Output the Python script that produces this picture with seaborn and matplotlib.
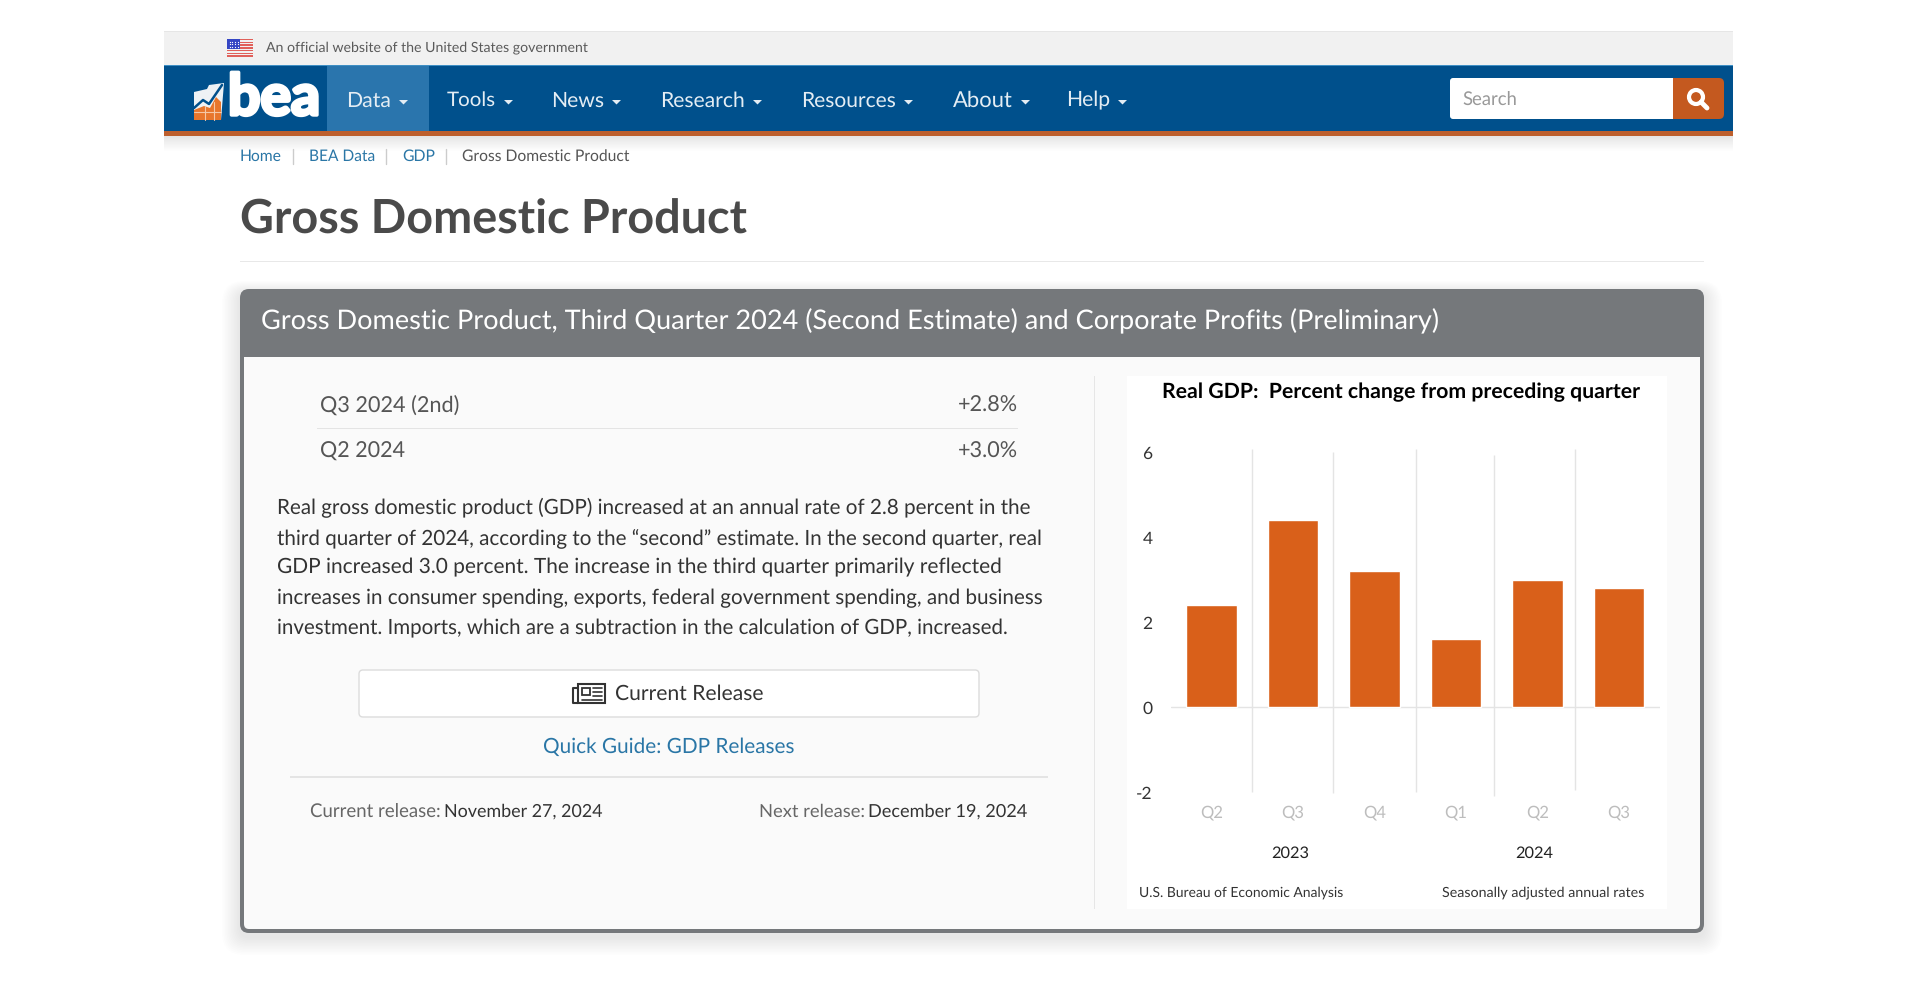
import numpy as np
import matplotlib
matplotlib.use('Agg')
import matplotlib.pyplot as plt
import matplotlib.patheffects as pe
import seaborn as sns
from matplotlib.patches import FancyBboxPatch, Rectangle, Polygon, Circle

# chart data
periods = ['2023 Q2', '2023 Q3', '2023 Q4', '2024 Q1', '2024 Q2', '2024 Q3']
quarter_labels = ['Q2', 'Q3', 'Q4', 'Q1', 'Q2', 'Q3']
gdp_change = [2.4, 4.4, 3.2, 1.6, 3.0, 2.8]
y_ticks = [-2, 0, 2, 4, 6]
years = ['2023', '2024']

# page text
nav_items = ['Data', 'Tools', 'News', 'Research', 'Resources', 'About', 'Help']
crumbs = ['Home', 'BEA Data', 'GDP']
paragraph = [
    'Real gross domestic product (GDP) increased at an annual rate of 2.8 percent in the',
    'third quarter of 2024, according to the \u201csecond\u201d estimate. In the second quarter, real',
    'GDP increased 3.0 percent. The increase in the third quarter primarily reflected',
    'increases in consumer spending, exports, federal government spending, and business',
    'investment. Imports, which are a subtraction in the calculation of GDP, increased.',
]

sns.set_style('white')
plt.rcParams['font.family'] = ['Lato', 'DejaVu Sans']
plt.rcParams['axes.unicode_minus'] = False
plt.rcParams['text.hinting'] = 'none'

NAVY = '#00508c'
ORANGE = '#c4591f'
GREY = '#75787b'
LINK = '#2a76a6'

fig = plt.figure(figsize=(19.2, 9.92), dpi=100, facecolor='white')
page = fig.add_axes([0, 0, 1, 1])
page.set_xlim(0, 1920)
page.set_ylim(992, 0)
page.axis('off')
renderer = fig.canvas.get_renderer()


def put(x, y, s, width=None, size=14, color='#333333', ha='left', weight='normal'):
    t = page.text(x, y + 1.5, s, fontsize=size, color=color, ha=ha, va='center', fontweight=weight)
    if width:
        # two passes, the width is not quite linear in the font size
        for _ in range(2):
            w = t.get_window_extent(renderer).width
            t.set_fontsize(t.get_fontsize() * width / w)
    return t


def box(x0, y0, x1, y1, color, r=0, **kw):
    if r:
        p = FancyBboxPatch((x0, y0), x1 - x0, y1 - y0, boxstyle=f'round,pad=0,rounding_size={r}',
                           facecolor=color, edgecolor=kw.pop('edgecolor', 'none'), **kw)
    else:
        p = Rectangle((x0, y0), x1 - x0, y1 - y0, facecolor=color, edgecolor='none', **kw)
    page.add_patch(p)
    return p


# top strip
box(164, 31, 1733, 65, '#f1f1f1')
box(164, 31, 1733, 32, '#e6e6e6')
for i in range(7):
    box(227, 39 + i * 19 / 7, 253, 39 + (i + 0.55) * 19 / 7, '#e0605a')
box(227, 39, 240, 49, '#3546c4')
for i in range(4):
    for j in range(3):
        page.plot(229.5 + i * 2.8, 41.5 + j * 2.8, 'o', ms=0.9, color='white', mew=0)
put(266, 46.5, 'An official website of the United States government', width=322, color='#5a5a5a')

# nav bar
box(164, 65, 1733, 131, NAVY)
box(164, 65, 1733, 66, '#3f8fc4')
box(164, 131, 1733, 136, '#bd5f2d')
for i in range(15):
    box(164, 136 + i, 1733, 137 + i, 'black', alpha=0.10 * (1 - i / 15))
box(327, 66, 429, 131, '#2a75ad')

# logo
page.add_patch(Polygon([(194, 92), (207, 89), (209, 85), (224, 83), (221, 120), (194, 120)],
                       facecolor='#eef2f5', edgecolor='none'))
page.add_patch(Polygon([(194, 110), (204, 106), (210, 108), (216, 97), (221, 102), (221, 120), (194, 120)],
                       facecolor='#e8762c', edgecolor='none'))
page.plot([194, 203, 209, 222], [108, 100, 104, 85], color=NAVY, lw=1.8)
page.plot([205, 205], [106, 120], color='#f5c7a5', lw=0.8)
page.plot([214, 214], [102, 120], color='#f5c7a5', lw=0.8)
page.plot([194, 221], [112, 112], color='#f5c7a5', lw=0.8)
put(228, 97, 'bea', width=92, size=50, color='white', weight='bold').set_path_effects(
    [pe.withStroke(linewidth=2.6, foreground='white')])

nav_x0 = [346, 447, 551, 660, 801, 953, 1066]
nav_x1 = [391, 496, 604, 745, 896, 1013, 1110]
for name, x0, x1 in zip(nav_items, nav_x0, nav_x1):
    put(x0, 99, name, width=x1 - x0, color='#e4edf4')
    page.add_patch(Polygon([(x1 + 8, 100), (x1 + 17, 100), (x1 + 12.5, 104.5)], facecolor='#e4edf4', edgecolor='none'))

# search
box(1450, 78, 1690, 119, 'white', r=3)
box(1673, 78, 1724, 119, ORANGE, r=5)
box(1673, 78, 1682, 119, ORANGE)
put(1462, 98, 'Search', width=55, color='#999999')
page.add_patch(Circle((1696, 97), 7, facecolor='none', edgecolor='white', lw=3))
page.plot([1701, 1707], [102, 108], color='white', lw=3.5, solid_capstyle='round')

# breadcrumb
crumb_x0 = [240, 309, 402]
crumb_x1 = [282, 375, 435]
for name, x0, x1 in zip(crumbs, crumb_x0, crumb_x1):
    put(x0, 155, name, width=x1 - x0, color=LINK)
    page.plot([x1 + 11, x1 + 11], [149, 164], color='#cccccc', lw=1)
put(462, 155, 'Gross Domestic Product', width=167, color='#555555')

# heading
put(240, 218.5, 'Gross Domestic Product', width=508, size=36, color='#4a4a4a', weight='bold')
box(240, 261, 1704, 262, '#e8e8e8')

# card with soft shadow
for i in range(12, 0, -1):
    box(240 - i * 1.5, 289 - i + 4, 1704 + i * 1.5, 933 + i * 1.5 + 4, 'black', r=10 + i, alpha=0.006)
box(240, 289, 1704, 933, GREY, r=9)
box(244, 357, 1700, 929, '#fafafa', r=5)
box(244, 357, 1700, 370, '#fafafa')
put(261, 319.5, 'Gross Domestic Product, Third Quarter 2024 (Second Estimate) and Corporate Profits (Preliminary)',
    width=1178, color='white')

# release table
put(320, 404, 'Q3 2024 (2nd)', width=139, color='#555555')
put(1018, 404, '+2.8%', width=60, color='#555555', ha='right')
box(317, 428, 1018, 429, '#e4e4e4')
put(320, 450, 'Q2 2024', width=85, color='#555555')
put(1018, 450, '+3.0%', width=60, color='#555555', ha='right')

para_y = [506, 536.5, 566, 596.5, 627]
para_w = [752, 764, 725, 764, 733]
for line, y, w in zip(paragraph, para_y, para_w):
    put(277, y, line, width=w, color='#333333')

# button
box(359, 670, 979, 717, 'white', r=4, edgecolor='#dcdcdc', lw=1)
box(578, 684, 605, 703, 'none').set(edgecolor='#333333', lw=1.5)
page.plot([578, 573, 573, 578], [688, 688, 703, 703], color='#333333', lw=1.5)
box(582, 687.5, 590, 695, 'none').set(edgecolor='#333333', lw=1.3)
for yy in (688, 692, 696):
    page.plot([593, 602], [yy, yy], color='#333333', lw=1.2)
page.plot([582, 602], [699.5, 699.5], color='#333333', lw=1.2)
put(615, 692, 'Current Release', width=149, color='#333333')
put(668.5, 745, 'Quick Guide: GDP Releases', width=251, color=LINK, ha='center')
box(290, 776, 1048, 777.5, '#e4e4e4')

put(310, 810, 'Current release:', width=131, color='#666666')
put(444.5, 810, 'November 27, 2024', width=159, color='#333333')
put(759, 810, 'Next release:', width=106, color='#666666')
put(868, 810, 'December 19, 2024', width=159, color='#333333')

# chart panel
box(1093.5, 376, 1095, 909, '#e6e6e6')
box(1127, 376, 1667, 909, 'white')

ax = fig.add_axes([1170.5 / 1920, 1 - 792.5 / 992, (1659.6 - 1170.5) / 1920, (792.5 - 448) / 992])
ax.patch.set_alpha(0)
sns.barplot(x=periods, y=gdp_change, color='#d9601a', saturation=1, width=0.62, ax=ax)
ax.set_xlim(-0.5, 5.5)
ax.set_ylim(-2, 6.1)
sns.despine(ax=ax, left=True, bottom=True)
ax.set_yticks(y_ticks)
ax.set_xticks(range(len(quarter_labels)))
ax.set_xticklabels(quarter_labels, color='#bdbdbd', fontsize=12)
ax.grid(False)
# the quarter dividers are not evenly spaced in the original
ax.vlines([0.5, 1.49, 2.51, 3.47, 4.46], [-1.98, -2.02, -1.98, -2.09, -1.95], [6.07, 6.0, 6.07, 5.94, 6.07],
          color='#e4e4e4', lw=1, zorder=0, clip_on=False)
ax.axhline(0, color='#e4e4e4', lw=1, zorder=0)
ax.tick_params(axis='y', length=0, pad=13, labelsize=12.5, labelcolor='#333333')
ax.tick_params(axis='x', which='both', length=0, pad=9)

put(1162, 391, 'Real GDP:  Percent change from preceding quarter', width=477, color='black', weight='bold')
for name, x in zip(years, [1290, 1534]):
    put(x, 852, name, width=38, color='#222222', ha='center')
put(1139, 891, 'U.S. Bureau of Economic Analysis', width=205, color='#333333')
put(1442.5, 891, 'Seasonally adjusted annual rates', width=203, color='#333333')

fig.savefig('out.png', dpi=100, facecolor='white')
